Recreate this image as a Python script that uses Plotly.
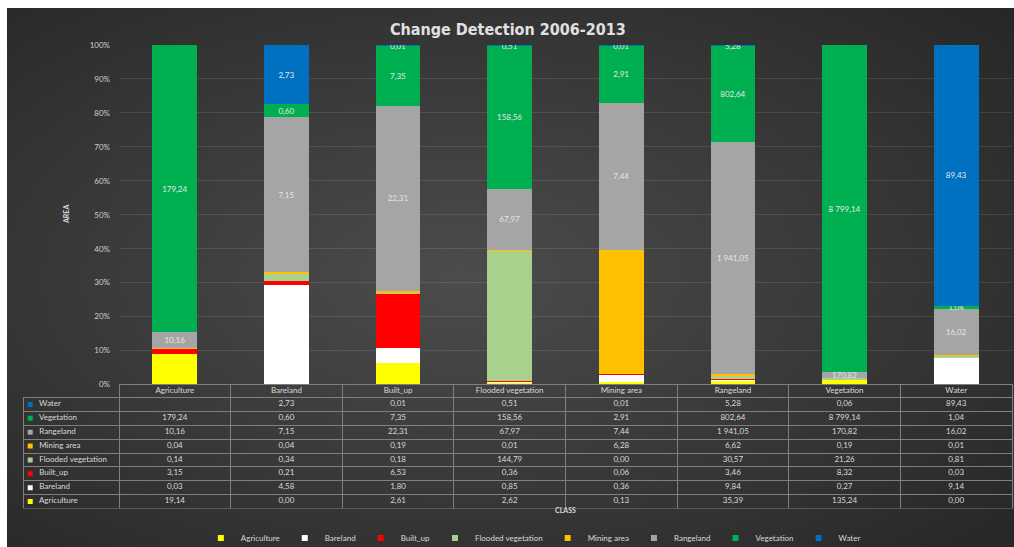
import base64
import plotly.graph_objects as go

# ---------------- data ----------------
categories = ["Agriculture", "Bareland", "Built_up", "Flooded vegetation",
              "Mining area", "Rangeland", "Vegetation", "Water"]

series_names = ["Agriculture", "Bareland", "Built_up", "Flooded vegetation",
                "Mining area", "Rangeland", "Vegetation", "Water"]

agriculture = [19.14, 0.00, 2.61, 2.62, 0.13, 35.39, 135.24, 0.00]
bareland = [0.03, 4.58, 1.80, 0.85, 0.36, 9.84, 0.27, 9.14]
built_up = [3.15, 0.21, 6.53, 0.36, 0.06, 3.46, 8.32, 0.03]
flooded_vegetation = [0.14, 0.34, 0.18, 144.79, 0.00, 30.57, 21.26, 0.81]
mining_area = [0.04, 0.04, 0.19, 0.01, 6.28, 6.62, 0.19, 0.01]
rangeland = [10.16, 7.15, 22.31, 67.97, 7.44, 1941.05, 170.82, 16.02]
vegetation = [179.24, 0.60, 7.35, 158.56, 2.91, 802.64, 8799.14, 1.04]
water = [None, 2.73, 0.01, 0.51, 0.01, 5.28, 0.06, 89.43]

series_values = [agriculture, bareland, built_up, flooded_vegetation,
                 mining_area, rangeland, vegetation, water]
series_colors = ["#FFFF00", "#FFFFFF", "#FF0000", "#A9D18E",
                 "#FFC000", "#A5A5A5", "#00B050", "#0070C0"]
labelled_series = {"Rangeland", "Vegetation", "Water"}

W, H = 1014, 547


def fmt(v):
    if v is None:
        return ""
    s = f"{v:,.2f}"
    return s.replace(",", " ").replace(".", ",")


def px_x(p):
    return p / W


def px_y(p):
    return 1 - p / H


TXT = "#d9d9d9"
SMALL_FONT = "Lato, 'Open Sans', sans-serif"
CLEAR = "rgba(0,0,0,0)"

fig = go.Figure()

# ---------------- bars ----------------
for name, vals, col in zip(series_names, series_values, series_colors):
    show = name in labelled_series
    fig.add_trace(go.Bar(
        name=name,
        x=categories,
        y=vals,
        marker=dict(color=col, line=dict(width=0)),
        text=[fmt(v) for v in vals] if show else None,
        textposition="inside" if show else "none",
        insidetextanchor="middle",
        constraintext="none",
        textfont=dict(color="#e6e6e6", size=8, family=SMALL_FONT),
        textangle=0,
        hoverinfo="skip",
        showlegend=False,
    ))

# legend entries (small square keys, like the original)
for name, col in zip(series_names, series_colors):
    fig.add_trace(go.Scatter(
        x=[None], y=[None], mode="markers", name=name,
        marker=dict(symbol="square", size=6, color=col),
        showlegend=True, hoverinfo="skip",
    ))

# ---------------- data table ----------------
rows_top_down = list(reversed(range(len(series_names))))
NB = "\u00a0"
first_col = [NB * 4 + series_names[i] for i in rows_top_down]
cols = [first_col]
for c in range(len(categories)):
    cols.append([fmt(series_values[i][c]) for i in rows_top_down])

plot_l, plot_r = 119, 1012
table_l = 23
cat_w = (plot_r - plot_l) / len(categories)
header_top, header_bot, table_bot = 384.5, 397.5, 508.5
row_h = (table_bot - header_bot) / len(series_names)
text_shift = 5.5   # table text sits low in its cells; lift it to mid-row
col_widths = [plot_l - table_l] + [cat_w] * len(categories)

# grid of the table (lines only)
fig.add_trace(go.Table(
    domain=dict(x=[px_x(table_l), px_x(plot_r)], y=[px_y(table_bot), px_y(header_top)]),
    columnwidth=col_widths,
    header=dict(
        values=[""] * (len(categories) + 1),
        height=header_bot - header_top,
        fill=dict(color=CLEAR),
        line=dict(color=[CLEAR] + ["#7f7f7f"] * len(categories), width=1),
    ),
    cells=dict(
        values=[[""] * len(series_names)] * (len(categories) + 1),
        height=row_h,
        fill=dict(color=CLEAR),
        line=dict(color="#7f7f7f", width=1),
    ),
))

# text of the table
fig.add_trace(go.Table(
    domain=dict(x=[px_x(table_l), px_x(plot_r)],
                y=[px_y(table_bot + 4), px_y(header_top - text_shift)]),
    columnwidth=col_widths,
    header=dict(
        values=[""] + categories,
        height=header_bot - header_top,
        align="center",
        fill=dict(color=CLEAR),
        line=dict(color=CLEAR, width=0),
        font=dict(color=TXT, size=8, family=SMALL_FONT),
    ),
    cells=dict(
        values=cols,
        height=row_h,
        align=["left"] + ["center"] * len(categories),
        fill=dict(color=CLEAR),
        line=dict(color=CLEAR, width=0),
        font=dict(color=TXT, size=8, family=SMALL_FONT),
    ),
))

# colour keys in the table's first column, placed on a category axis
fig.add_trace(go.Scatter(
    x=[0.075] * len(series_names), y=series_names,
    mode="markers", xaxis="x2", yaxis="y2",
    marker=dict(symbol="square", size=5, color=series_colors),
    showlegend=False, hoverinfo="skip",
))

# ---------------- background gradient ----------------
svg = ('<svg xmlns="http://www.w3.org/2000/svg" width="1007" height="539">'
       '<defs><radialGradient id="g" cx="45%" cy="50%" r="75%">'
       '<stop offset="0" stop-color="#4c4c4c"/>'
       '<stop offset="1" stop-color="#262626"/>'
       '</radialGradient></defs>'
       '<rect width="1007" height="539" fill="url(#g)"/></svg>')
bg_src = "data:image/svg+xml;base64," + base64.b64encode(svg.encode()).decode()

fig.update_layout(
    width=W, height=H,
    margin=dict(l=0, r=0, t=0, b=0, autoexpand=False),
    paper_bgcolor="#ffffff",
    plot_bgcolor=CLEAR,
    barmode="stack",
    barnorm="percent",
    bargap=0.6,
    showlegend=True,
    legend=dict(
        orientation="h", x=0.526, xanchor="center", y=px_y(538), yanchor="middle",
        font=dict(color=TXT, size=8, family=SMALL_FONT),
        traceorder="normal", bgcolor=CLEAR,
        itemwidth=30, tracegroupgap=0,
    ),
    images=[dict(
        source=bg_src, xref="paper", yref="paper",
        x=px_x(7), y=px_y(8), sizex=1 - px_x(7), sizey=px_y(8),
        xanchor="left", yanchor="top", sizing="stretch", layer="below",
    )],
    xaxis=dict(
        domain=[px_x(plot_l), px_x(plot_r)],
        showticklabels=False, showgrid=False, zeroline=False, showline=False,
        range=[-0.5, len(categories) - 0.5], fixedrange=True,
    ),
    yaxis=dict(
        domain=[px_y(header_top), px_y(45)],
        range=[0, 100], dtick=10, ticksuffix="%",
        showgrid=True, gridcolor="rgba(255,255,255,0.10)", gridwidth=1,
        zeroline=False, showline=False, automargin=False,
        tickfont=dict(color="#cfcfcf", size=8, family=SMALL_FONT),
        ticks="", ticklabelstandoff=8,
    ),
    xaxis2=dict(
        domain=[px_x(table_l), px_x(plot_l)], range=[0, 1], anchor="y2",
        visible=False, fixedrange=True,
    ),
    yaxis2=dict(
        domain=[px_y(table_bot), px_y(header_bot)], anchor="x2",
        type="category", categoryorder="array", categoryarray=series_names,
        range=[-0.5, len(series_names) - 0.5], visible=False, fixedrange=True,
    ),
    annotations=[
        dict(text="<b>Change Detection 2006-2013</b>", x=px_x(508), y=px_y(18),
             xref="paper", yref="paper", showarrow=False,
             font=dict(color="#e0e0e0", size=16,
                       family="'Liberation Sans Narrow', 'DejaVu Sans Condensed', sans-serif")),
        dict(text="<b>AREA</b>", x=px_x(60), y=px_y(215), xref="paper", yref="paper",
             showarrow=False, textangle=-90,
             font=dict(color=TXT, size=7, family=SMALL_FONT)),
        dict(text="<b>CLASS</b>", x=px_x(565), y=px_y(516), xref="paper", yref="paper",
             showarrow=False,
             font=dict(color=TXT, size=7, family=SMALL_FONT)),
    ],
)

fig.write_html("out.html")
